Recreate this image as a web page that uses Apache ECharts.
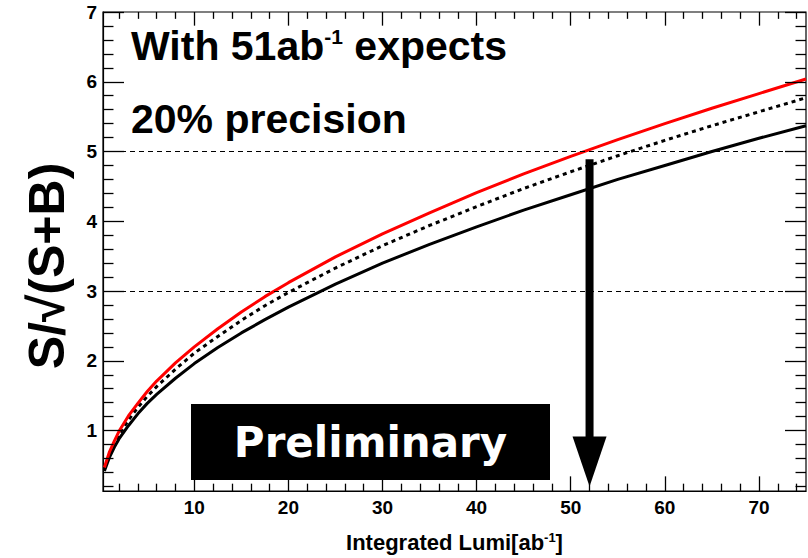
<!DOCTYPE html>
<html><head><meta charset="utf-8">
<script src="https://cdn.jsdelivr.net/npm/echarts@6/dist/echarts.min.js"></script>
<style>html,body{margin:0;padding:0;background:#fff}#c{width:808px;height:558px}</style>
</head><body><div id="c"></div>
<script>
// Data
const lumi       = [0.45, 1, 1.5, 2, 3, 4, 5, 6, 8, 10, 12.5, 15, 17.5, 20, 25, 30, 35, 40, 45, 50, 55, 60, 65, 70, 75];
const redVals    = [0.47, 0.70, 0.85, 0.99, 1.21, 1.39, 1.56, 1.71, 1.97, 2.20, 2.46, 2.70, 2.92, 3.12, 3.49, 3.82, 4.12, 4.41, 4.68, 4.93, 5.17, 5.40, 5.62, 5.83, 6.04];
const dottedVals = [0.45, 0.67, 0.82, 0.94, 1.15, 1.33, 1.49, 1.63, 1.88, 2.11, 2.35, 2.58, 2.79, 2.98, 3.33, 3.65, 3.94, 4.21, 4.47, 4.71, 4.94, 5.16, 5.37, 5.57, 5.77];
const blackVals  = [0.42, 0.62, 0.76, 0.88, 1.07, 1.24, 1.39, 1.52, 1.75, 1.96, 2.19, 2.40, 2.59, 2.77, 3.10, 3.40, 3.67, 3.92, 4.16, 4.38, 4.60, 4.80, 5.00, 5.19, 5.37];

const xMajorTicks = [10, 20, 30, 40, 50, 60, 70];
const xMinorTicks = [2, 4, 6, 8, 12, 14, 16, 18, 22, 24, 26, 28, 32, 34, 36, 38, 42, 44, 46, 48, 52, 54, 56, 58, 62, 64, 66, 68, 72, 74];
const yMajorTicks = [1, 2, 3, 4, 5, 6, 7];
const yMinorTicks = [0.2, 0.4, 0.6, 0.8, 1.2, 1.4, 1.6, 1.8, 2.2, 2.4, 2.6, 2.8, 3.2, 3.4, 3.6, 3.8, 4.2, 4.4, 4.6, 4.8, 5.2, 5.4, 5.6, 5.8, 6.2, 6.4, 6.6, 6.8];
const refLines = [3, 5];
const xRange = [0.3, 75];
const yRange = [0.134, 7];
const arrowX = 52, arrowTop = 4.89, arrowTip = 0.2;

const pair = (xs, ys) => xs.map((x, i) => [x, ys[i]]);
const FONT = '"Liberation Sans", Arial, sans-serif';

// ROOT-style inward ticks on all four sides; tick lengths are fractions of the axis span
const xSpan = xRange[1] - xRange[0], ySpan = yRange[1] - yRange[0];
const TICK = { bottomMajor: 0.0306, bottomMinor: 0.0153, topMajor: 0.0285, topMinor: 0.0143, sideMajor: 0.0299, sideMinor: 0.0149 };
const seg = (a, b) => [{ coord: a }, { coord: b }];
const tickSegs = [];
xMajorTicks.forEach(v => {
  tickSegs.push(seg([v, yRange[0]], [v, yRange[0] + TICK.bottomMajor * ySpan]));
  tickSegs.push(seg([v, yRange[1]], [v, yRange[1] - TICK.topMajor * ySpan]));
});
xMinorTicks.forEach(v => {
  tickSegs.push(seg([v, yRange[0]], [v, yRange[0] + TICK.bottomMinor * ySpan]));
  tickSegs.push(seg([v, yRange[1]], [v, yRange[1] - TICK.topMinor * ySpan]));
});
yMajorTicks.forEach(v => {
  tickSegs.push(seg([xRange[0], v], [xRange[0] + TICK.sideMajor * xSpan, v]));
  tickSegs.push(seg([xRange[1], v], [xRange[1] - TICK.sideMajor * xSpan, v]));
});
yMinorTicks.forEach(v => {
  tickSegs.push(seg([xRange[0], v], [xRange[0] + TICK.sideMinor * xSpan, v]));
  tickSegs.push(seg([xRange[1], v], [xRange[1] - TICK.sideMinor * xSpan, v]));
});

const chart = echarts.init(document.getElementById('c'), null, { renderer: 'svg' });
chart.setOption({
  animation: false,
  grid: { left: 103, right: 2, top: 12, bottom: 55, show: true, borderColor: '#000', borderWidth: 1.2 },
  xAxis: {
    type: 'value', min: xRange[0], max: xRange[1], splitLine: { show: false },
    axisLine: { show: true, lineStyle: { color: '#000', width: 1.2 } },
    axisTick: { show: false },
    axisLabel: { show: true, customValues: xMajorTicks, margin: 7, color: '#000', fontFamily: FONT, fontWeight: 'bold', fontSize: 19 },
    name: '{a|Integrated Lumi[ab}{s|-1}{a|]}',
    nameLocation: 'middle', nameGap: 40,
    nameTextStyle: {
      rich: {
        a: { fontFamily: FONT, fontWeight: 'bold', fontSize: 22, color: '#000' },
        s: { fontFamily: FONT, fontWeight: 'bold', fontSize: 13, color: '#000', padding: [0, 0, 9, 0] }
      }
    }
  },
  yAxis: {
    type: 'value', min: yRange[0], max: yRange[1], splitLine: { show: false },
    axisLine: { show: true, lineStyle: { color: '#000', width: 1.2 } },
    axisTick: { show: false },
    axisLabel: { show: true, customValues: yMajorTicks, margin: 6, color: '#000', fontFamily: FONT, fontWeight: 'bold', fontSize: 19 }
  },
  series: [
    {
      type: 'line', name: 'black', data: pair(lumi, blackVals), showSymbol: false, z: 3,
      lineStyle: { color: '#000', width: 3 },
      markLine: {
        silent: true, symbol: 'none', label: { show: false }, animation: false,
        lineStyle: { color: '#000', width: 1.3, type: 'solid' },
        emphasis: { disabled: true },
        data: refLines.map(v => ({ yAxis: v, lineStyle: { color: '#000', width: 1, type: [5, 4] } })).concat(tickSegs)
      }
    },
    { type: 'line', name: 'dotted', data: pair(lumi, dottedVals), showSymbol: false, z: 3,
      lineStyle: { color: '#000', width: 3, type: [4, 4] } },
    { type: 'line', name: 'red', data: pair(lumi, redVals), showSymbol: false, z: 4,
      lineStyle: { color: '#ff0000', width: 3 } },
    {
      type: 'custom', name: 'arrow', z: 6,
      data: [[arrowX, arrowTop, arrowTip]],
      encode: { x: 0, y: [1, 2] },
      renderItem: function (params, api) {
        const top = api.coord([api.value(0), api.value(1)]);
        const tip = api.coord([api.value(0), api.value(2)]);
        const headLen = 50, headW = 17, shaftW = 4;
        const hy = tip[1] - headLen;
        return {
          type: 'group',
          children: [
            { type: 'rect', shape: { x: top[0] - shaftW, y: top[1], width: shaftW * 2, height: hy - top[1] + 1 }, style: { fill: '#000' } },
            { type: 'polygon', shape: { points: [[tip[0] - headW, hy], [tip[0] + headW, hy], [tip[0], tip[1]]] }, style: { fill: '#000' } }
          ]
        };
      }
    }
  ],
  graphic: [
    {
      type: 'text', left: 131, top: 25, z: 10,
      style: {
        text: '{a|With 51ab}{s|-1}{a| expects}',
        rich: {
          a: { fontFamily: FONT, fontWeight: 'bold', fontSize: 41, fill: '#000' },
          s: { fontFamily: FONT, fontWeight: 'bold', fontSize: 21, fill: '#000', padding: [0, 0, 19, 0] }
        }
      }
    },
    {
      type: 'text', left: 131, top: 98, z: 10,
      style: { text: '20% precision', font: 'bold 41px ' + FONT, fill: '#000' }
    },
    {
      type: 'text', z: 10, rotation: Math.PI / 2, x: 47, y: 266,
      style: { text: 'S/√(S+B)', font: 'bold 50px ' + FONT, fill: '#000', align: 'center', verticalAlign: 'middle' }
    },
    { type: 'rect', z: 20, shape: { x: 191, y: 404, width: 359, height: 76 }, style: { fill: '#000' } },
    { type: 'text', z: 21, x: 370.5, y: 442, style: { text: 'Preliminary', font: 'bold 42px "DejaVu Sans", sans-serif', fill: '#fff', align: 'center', verticalAlign: 'middle' } }
  ]
});
</script>
</body></html>
